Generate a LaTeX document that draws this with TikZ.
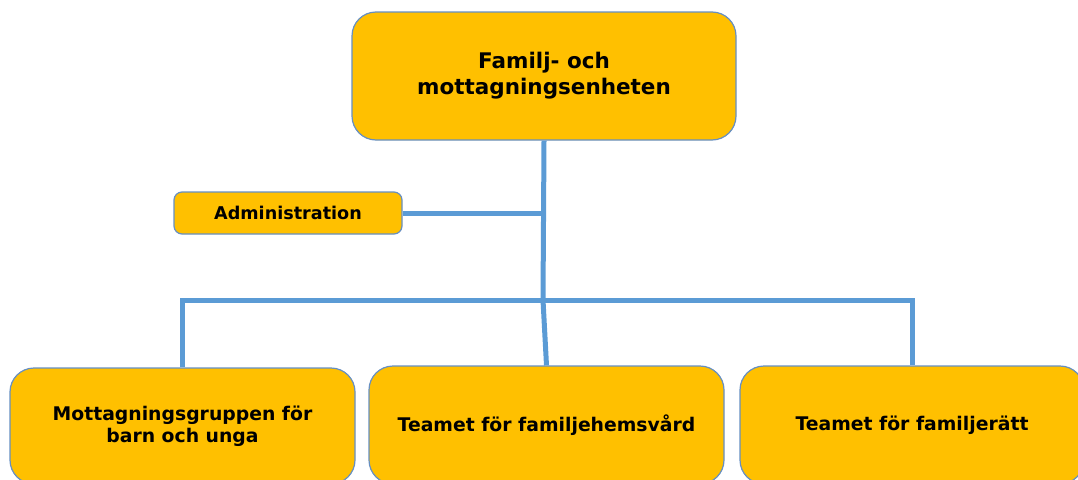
\documentclass[tikz,border=0pt]{standalone}
\usepackage{fontspec}
\setmainfont{DejaVu Sans}
\definecolor{unitfill}{rgb}{1.000000, 0.752941, 0.000000}
\definecolor{linkblue}{rgb}{0.356863, 0.607843, 0.835294}
\definecolor{edgeblue}{rgb}{0.400000, 0.560000, 0.760000}

\tikzset{
  unitbox/.style={draw=edgeblue, line width=1.2pt, fill=unitfill, rounded corners=24pt,
    align=center, font=\bfseries\fontsize{18.8}{21.5}\selectfont, inner sep=0pt},
  smallbox/.style={unitbox, rounded corners=8pt, font=\bfseries\fontsize{17.6}{20}\selectfont},
  link/.style={draw=linkblue, line width=5pt}
}

\begin{document}
\begin{tikzpicture}[x=1pt,y=-1pt]
\useasboundingbox (0,0) rectangle (1078,479);
\clip (0,0) rectangle (1078,479);
% boxes
\node[unitbox, minimum width=384pt, minimum height=128pt, font=\bfseries\fontsize{21.5}{26}\selectfont] (enhet) at (544,76) {Familj- och\\mottagningsenheten};
\node[smallbox, minimum width=228pt, minimum height=42pt] (admin) at (288,213) {Administration};
\node[unitbox, minimum width=345pt, minimum height=116pt] (mott) at (182.5,426) {Mottagningsgruppen för\\barn och unga};
\node[unitbox, minimum width=355pt, minimum height=118pt] (hem) at (546.5,425) {Teamet för familjehemsvård};
\node[unitbox, minimum width=344pt, minimum height=118pt] (ratt) at (912,425) {Teamet för familjerätt};
% connectors
\coordinate (adminjoin) at (543,213);
\coordinate (hub) at (543,300);
\draw[link] (enhet.south) -- (hub);
\draw[link] (admin.east) -- (adminjoin);
\draw[link] (mott.north) -- (mott.north |- hub) -- (ratt.north |- hub) -- (ratt.north);
\draw[link] (hub) -- (hem.north);
\end{tikzpicture}
\end{document}
